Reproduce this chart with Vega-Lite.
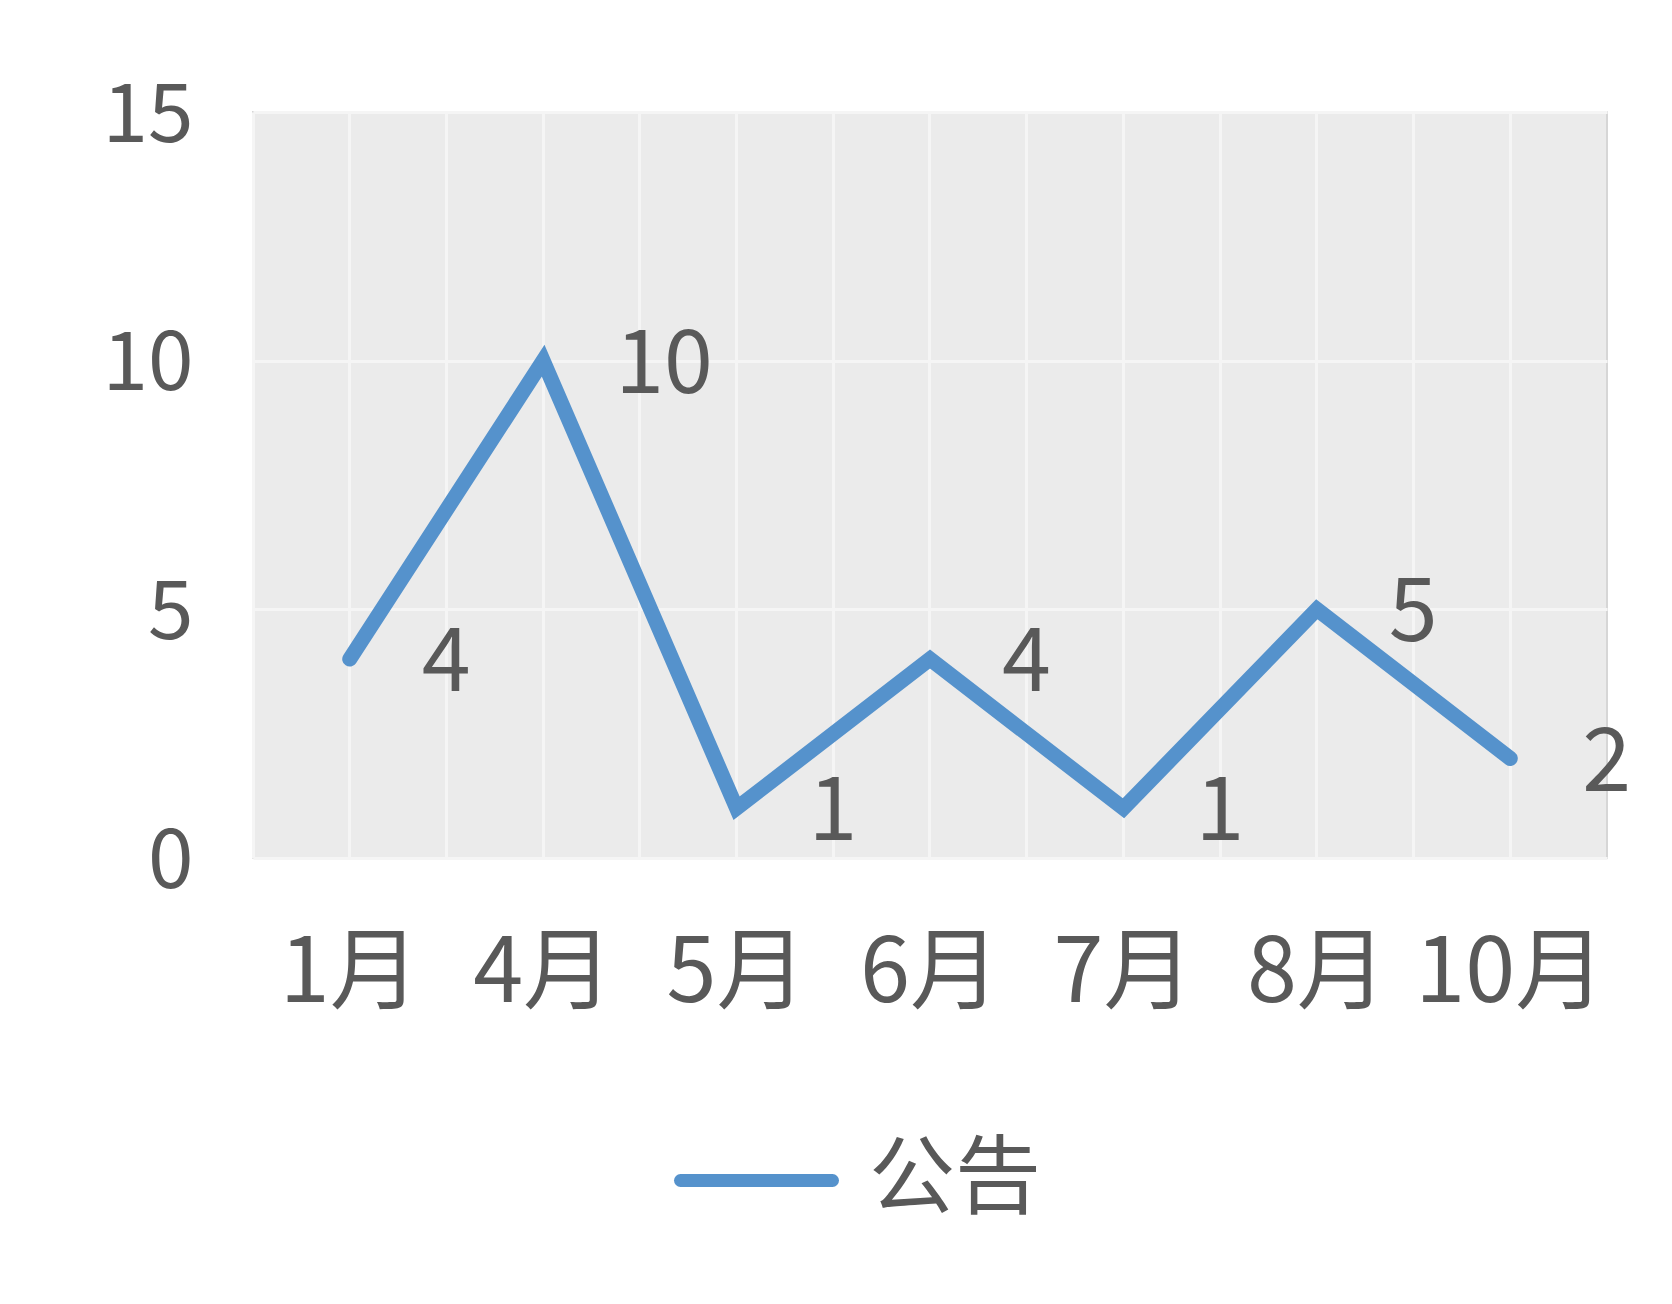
{
  "$schema": "https://vega.github.io/schema/vega-lite/v6.json",
  "width": 1354,
  "height": 746,
  "autosize": {"type": "none"},
  "padding": {"left": 253, "top": 112, "right": 65, "bottom": 446},
  "background": "#ffffff",
  "config": {
    "font": "Noto Sans CJK SC",
    "view": {"fill": "#ebebeb", "stroke": "#d6d6d6", "strokeWidth": 2},
    "axis": {"labelColor": "#595959", "gridColor": "#f5f5f5", "gridWidth": 3, "ticks": false, "domain": false, "title": null, "labelLimit": 0}
  },
  "data": {
    "values": [
      {"month": "1月", "value": 4, "series": "公告"},
      {"month": "4月", "value": 10, "series": "公告"},
      {"month": "5月", "value": 1, "series": "公告"},
      {"month": "6月", "value": 4, "series": "公告"},
      {"month": "7月", "value": 1, "series": "公告"},
      {"month": "8月", "value": 5, "series": "公告"},
      {"month": "10月", "value": 2, "series": "公告"}
    ]
  },
  "layer": [
    {
      "mark": {"type": "line", "strokeWidth": 15, "strokeCap": "round", "strokeJoin": "miter"},
      "encoding": {
        "x": {
          "field": "month", "type": "ordinal", "sort": null,
          "scale": {"type": "band", "paddingInner": 0, "paddingOuter": 0},
          "bandPosition": 0.5,
          "axis": {"orient": "bottom", "bandPosition": 0.5, "grid": true, "labelFontSize": 90, "labelPadding": 72, "labelAngle": 0}
        },
        "y": {
          "field": "value", "type": "quantitative",
          "scale": {"domain": [0, 15], "nice": false},
          "axis": {"values": [0, 5, 10, 15], "grid": true, "labelFontSize": 82, "labelPadding": 60, "labelOffset": 4}
        },
        "color": {
          "field": "series", "type": "nominal",
          "scale": {"range": ["#5592cc"]},
          "legend": {
            "orient": "none", "legendX": 421, "legendY": 986, "title": null, "padding": 0,
            "symbolType": "stroke", "symbolSize": 23100, "symbolStrokeWidth": 13,
            "labelFontSize": 86, "labelColor": "#595959", "labelOffset": 30, "labelLimit": 0,
            "encode": {"symbols": {"update": {"strokeCap": {"value": "round"}}}}
          }
        }
      }
    },
    {
      "mark": {"type": "text", "align": "left", "baseline": "middle", "dx": 72, "dy": 6, "fontSize": 88, "color": "#595959"},
      "encoding": {
        "x": {
          "field": "month", "type": "ordinal", "sort": null,
          "bandPosition": 0.5,
          "axis": {"orient": "top", "bandPosition": 0, "grid": true, "labels": false, "domain": false, "ticks": false}
        },
        "y": {"field": "value", "type": "quantitative"},
        "text": {"field": "value", "type": "quantitative"}
      }
    }
  ],
  "resolve": {"axis": {"x": "independent"}}
}
